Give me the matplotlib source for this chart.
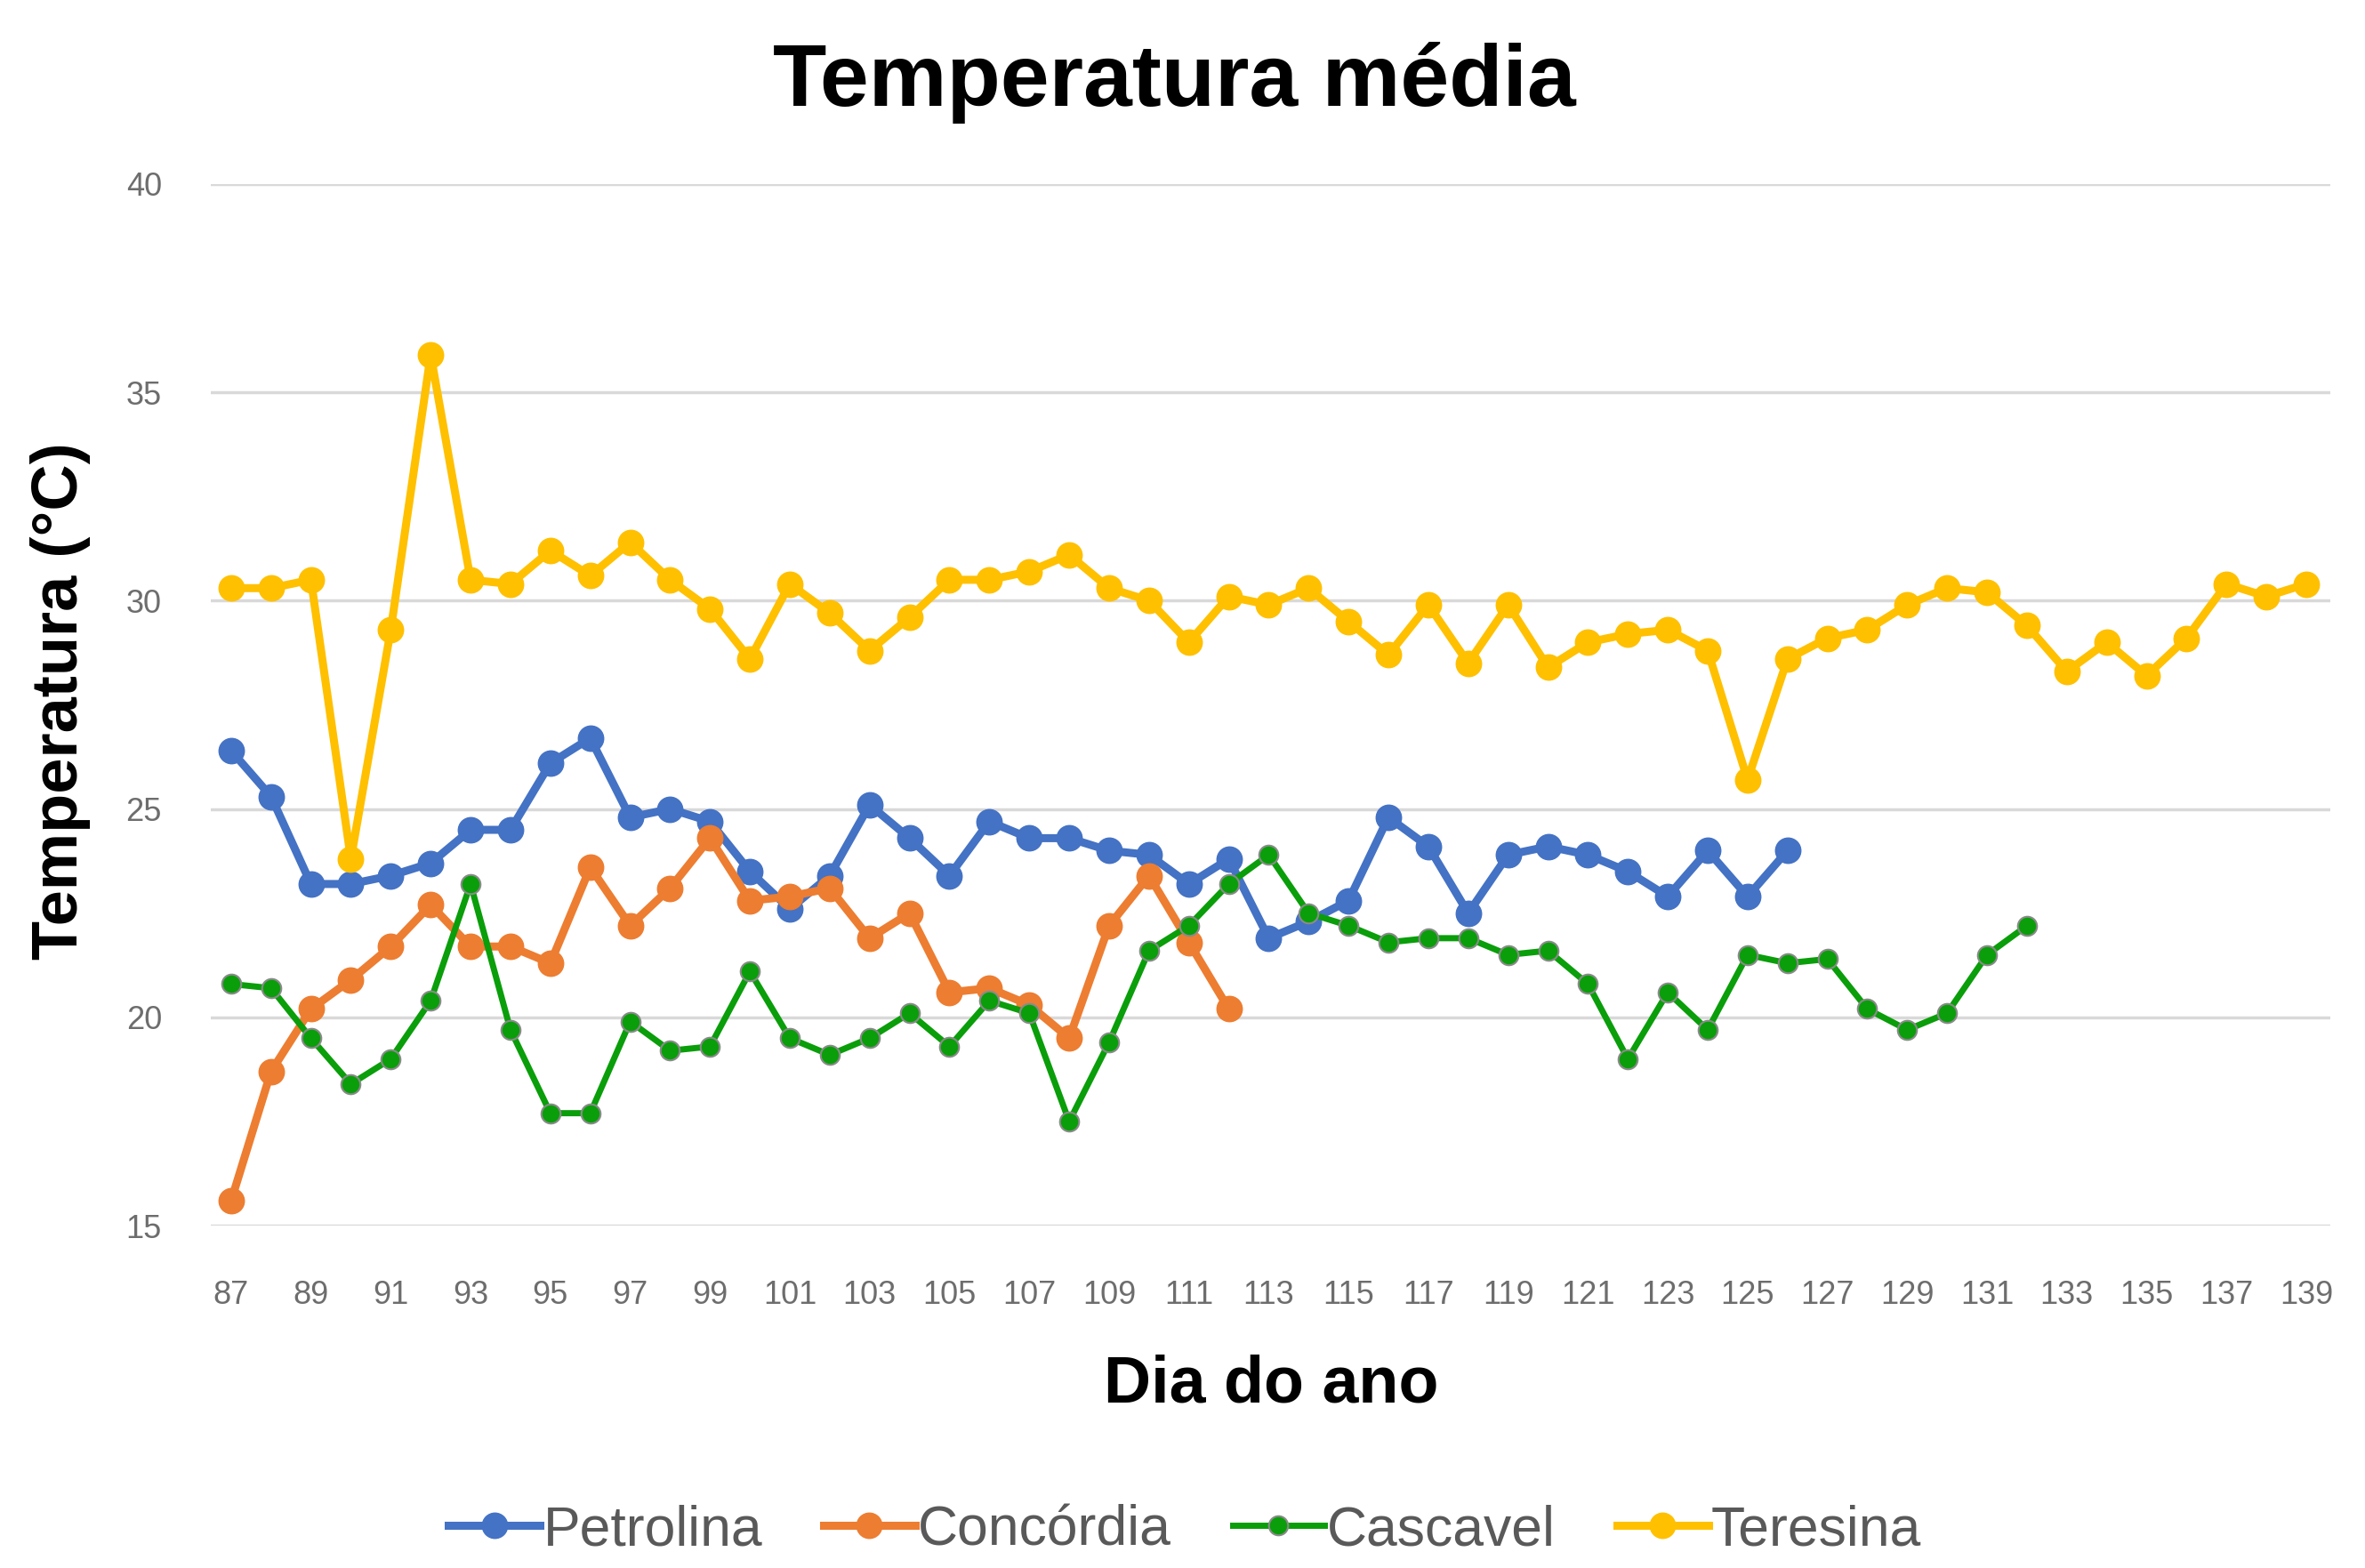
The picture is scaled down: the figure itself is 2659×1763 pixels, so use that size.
import numpy as np
import matplotlib.pyplot as plt

# Dados
dias = np.arange(87, 140)

petrolina = [26.4, 25.3, 23.2, 23.2, 23.4, 23.7, 24.5, 24.5, 26.1, 26.7,
             24.8, 25.0, 24.7, 23.5, 22.6, 23.4, 25.1, 24.3, 23.4, 24.7,
             24.3, 24.3, 24.0, 23.9, 23.2, 23.8, 21.9, 22.3, 22.8, 24.8,
             24.1, 22.5, 23.9, 24.1, 23.9, 23.5, 22.9, 24.0, 22.9, 24.0]

concordia = [15.6, 18.7, 20.2, 20.9, 21.7, 22.7, 21.7, 21.7, 21.3, 23.6,
             22.2, 23.1, 24.3, 22.8, 22.9, 23.1, 21.9, 22.5, 20.6, 20.7,
             20.3, 19.5, 22.2, 23.4, 21.8, 20.2]

cascavel = [20.8, 20.7, 19.5, 18.4, 19.0, 20.4, 23.2, 19.7, 17.7, 17.7,
            19.9, 19.2, 19.3, 21.1, 19.5, 19.1, 19.5, 20.1, 19.3, 20.4,
            20.1, 17.5, 19.4, 21.6, 22.2, 23.2, 23.9, 22.5, 22.2, 21.8,
            21.9, 21.9, 21.5, 21.6, 20.8, 19.0, 20.6, 19.7, 21.5, 21.3,
            21.4, 20.2, 19.7, 20.1, 21.5, 22.2]

teresina = [30.3, 30.3, 30.5, 23.8, 29.3, 35.9, 30.5, 30.4, 31.2, 30.6,
            31.4, 30.5, 29.8, 28.6, 30.4, 29.7, 28.8, 29.6, 30.5, 30.5,
            30.7, 31.1, 30.3, 30.0, 29.0, 30.1, 29.9, 30.3, 29.5, 28.7,
            29.9, 28.5, 29.9, 28.4, 29.0, 29.2, 29.3, 28.8, 25.7, 28.6,
            29.1, 29.3, 29.9, 30.3, 30.2, 29.4, 28.3, 29.0, 28.2, 29.1,
            30.4, 30.1, 30.4]

nomes = ['Petrolina', 'Concórdia', 'Cascavel', 'Teresina']
cores = ['#4472C4', '#ED7D31', '#0A9E0A', '#FFC000']
series = [petrolina, concordia, cascavel, teresina]

plt.rcParams['font.family'] = ['Liberation Sans', 'DejaVu Sans']

fig = plt.figure(figsize=(26.59, 17.63), dpi=100)
ax = fig.add_axes([0.0893, 0.2183, 0.896, 0.6644])

for nome, cor, valores in zip(nomes, cores, series):
  x = dias[:len(valores)]
  if nome == 'Cascavel':
    ax.plot(x, valores, color=cor, lw=5, marker='o', ms=15.5,
            mec='#8a8a8a', mew=1.5, label=nome, solid_joinstyle='round')
  else:
    ax.plot(x, valores, color=cor, lw=6.5, marker='o', ms=20.5,
            label=nome, solid_joinstyle='round')

ax.set_xlim(86.5, 139.6)
ax.set_ylim(15, 40)
ax.set_yticks([15, 20, 25, 30, 35, 40])
ax.set_xticks(np.arange(87, 140, 2))
ax.grid(axis='y', color='#d9d9d9', lw=2.5)
ax.set_axisbelow(True)
for s in ax.spines.values():
  s.set_visible(False)
ax.tick_params(length=0, labelsize=26, labelcolor='#6d6d6d')
ax.tick_params(axis='y', pad=40)
ax.tick_params(axis='x', pad=44)

fig.text(0.4965, 0.947, 'Temperatura média', ha='center', va='center',
         fontsize=71, fontweight='bold')
fig.text(0.5376, 0.117, 'Dia do ano', ha='center', va='center',
         fontsize=53, fontweight='bold')
fig.text(0.0255, 0.553, 'Temperatura (°C)', ha='center', va='center',
         fontsize=52, fontweight='bold', rotation=90)

leg = fig.legend(loc='center', bbox_to_anchor=(0.501, 0.024), ncol=4,
                 frameon=False, fontsize=45, handlelength=1.65,
                 handletextpad=0.05, columnspacing=1.1)
for t in leg.get_texts():
  t.set_color('#595959')

fig.savefig('out.png', dpi=100)
